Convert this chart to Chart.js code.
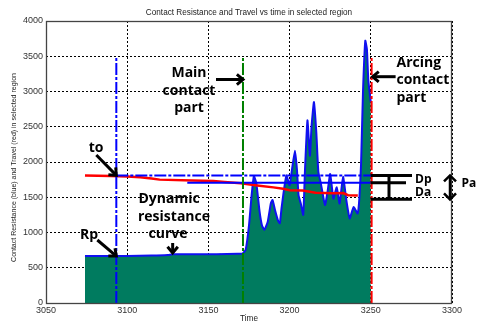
<!DOCTYPE html>
<html><head><meta charset="utf-8">
<script src="https://cdn.jsdelivr.net/npm/chart.js@4.4.1/dist/chart.umd.min.js"></script>
<style>html,body{margin:0;padding:0;background:#fff;}#wrap{width:479px;height:322px;}</style>
</head><body><div id="wrap"><canvas id="c" width="479" height="322"></canvas></div>
<script>
// ---- data ----
const resTime = [3074,3085,3100,3115,3125,3128,3140,3155,3168,3171,3173,3175,3176.5,3178,3179.5,3181.5,3183,3184.5,3186.5,3188.5,3189.5,3191,3193,3194,3195,3196.5,3198,3200,3201.5,3203.3,3204.5,3205.5,3207,3208.4,3209.5,3211,3212.5,3213.5,3215,3216.5,3217.7,3219.3,3221.8,3223.5,3225,3227,3229,3230.8,3232.9,3235,3237,3239.4,3241.9,3243,3244,3245.2,3246.6,3247.6,3248.5,3250];
const resistance = [665,665,668,672,680,690,690,693,698,700,760,1100,1500,1800,1700,1300,1100,1040,1150,1420,1460,1320,1160,1130,1340,1600,1810,1670,1900,2160,1900,1530,1400,1250,1900,2590,2090,2500,2850,2400,1860,1690,1390,1600,1830,1480,1640,1410,1790,1450,1200,1360,1270,1500,1970,3000,3720,3600,3150,2850];
const travelTime = [3074,3090,3100,3108,3115,3120,3140,3153,3160,3170,3180,3190,3196,3200,3208,3216,3227,3233,3236,3242];
const travel = [1810,1800,1795,1785,1765,1750,1738,1729,1715,1700,1668,1640,1621,1600,1595,1565,1555,1560,1530,1526];
const xTicks = [3050,3100,3150,3200,3250,3300];
const yTicks = [0,500,1000,1500,2000,2500,3000,3500,4000];
const markerNames = ['to','main','arc'];
const markerTimes = [3093.3,3171.3,3250.5];
const markerColors = ['#0000ff','#008000','#ff0000'];
const markerTop = 3500;
const dpLevel = 1810, daLevel = 1705, daStart = 3137, paLow = 1470;

const dashDot = [12,2,3,2];
const datasets = [];
markerTimes.forEach((t,i)=>{
  datasets.push({label:markerNames[i],data:[{x:t,y:0},{x:t,y:markerTop}],borderColor:markerColors[i],borderWidth:2,borderDash:dashDot,pointRadius:0,showLine:true,fill:false});
});
datasets.push({label:'Dp',data:[{x:markerTimes[0],y:dpLevel},{x:markerTimes[2],y:dpLevel}],borderColor:'#0000ff',borderWidth:2,borderDash:dashDot,pointRadius:0,showLine:true,fill:false});
datasets.push({label:'Da',data:[{x:daStart,y:daLevel},{x:markerTimes[2],y:daLevel}],borderColor:'#0000ff',borderWidth:2,pointRadius:0,showLine:true,fill:false});
datasets.push({label:'travel',data:travelTime.map((t,i)=>({x:t,y:travel[i]})),borderColor:'#ff0000',borderWidth:2.5,pointRadius:0,showLine:true,fill:false,tension:0});
datasets.push({label:'resistance',data:resTime.map((t,i)=>({x:t,y:resistance[i]})),borderColor:'#1010f0',backgroundColor:'#007b5f',borderWidth:2,pointRadius:0,showLine:true,fill:'origin',tension:0.15});

function arrow(ctx,x1,y1,x2,y2,head){
  head = head||7;
  ctx.beginPath();ctx.moveTo(x1,y1);ctx.lineTo(x2,y2);ctx.stroke();
  const a=Math.atan2(y2-y1,x2-x1);
  ctx.beginPath();
  ctx.moveTo(x2-head*Math.cos(a-0.7),y2-head*Math.sin(a-0.7));
  ctx.lineTo(x2,y2);
  ctx.lineTo(x2-head*Math.cos(a+0.7),y2-head*Math.sin(a+0.7));
  ctx.stroke();
}

const annot = {
  id:'annot',
  afterDatasetsDraw(chart){
    const ctx=chart.ctx,a=chart.chartArea;
    ctx.save();ctx.strokeStyle='#444';ctx.lineWidth=1.3;
    ctx.strokeRect(Math.round(a.left)+0.5,Math.round(a.top)+0.5,Math.round(a.right-a.left)-1,Math.round(a.bottom-a.top));
    ctx.restore();
  },
  afterDraw(chart){
    const ctx=chart.ctx,a=chart.chartArea,X=chart.scales.x,Y=chart.scales.y;
    const px=v=>X.getPixelForValue(v),py=v=>Y.getPixelForValue(v);
    ctx.save();
    ctx.fillStyle='#222';ctx.textAlign='center';ctx.textBaseline='middle';
    ctx.font='8.2px "Liberation Sans", Arial, sans-serif';
    ctx.fillText('Contact Resistance and Travel vs time in selected region',(a.left+a.right)/2,12.5);
    ctx.fillText('Time',(a.left+a.right)/2,319);
    ctx.save();ctx.translate(14,167.5);ctx.rotate(-Math.PI/2);
    ctx.font='7px "Liberation Sans", Arial, sans-serif';
    ctx.fillText('Contact Resistance (blue) and Travel (red) in selected region',0,0);
    ctx.restore();
    ctx.strokeStyle='#000';ctx.fillStyle='#000';ctx.lineWidth=3;ctx.lineCap='butt';ctx.lineJoin='miter';
    const xm=px(markerTimes[1]), xa=px(markerTimes[2]), xt=px(markerTimes[0]);
    arrow(ctx,xm-27,py(3170),xm,py(3170),8);
    arrow(ctx,xa+24,py(3210),xa+1,py(3210),8);
    arrow(ctx,xt-20,155,xt,py(dpLevel),8);
    arrow(ctx,xt-19,240,xt,py(665),8);
    arrow(ctx,px(3128),243,px(3128),py(710),8);
    const yDp=py(dpLevel), yDa=py(daLevel), yLo=py(paLow);
    ctx.beginPath();
    ctx.moveTo(xa-1,yDp);ctx.lineTo(412,yDp);
    ctx.moveTo(xa-1,yDa);ctx.lineTo(406,yDa);
    ctx.moveTo(xa-1,yLo);ctx.lineTo(412,yLo);
    ctx.moveTo(389,yDp);ctx.lineTo(389,yLo);
    ctx.stroke();
    ctx.lineWidth=2.5;
    ctx.beginPath();ctx.moveTo(450,yDp+1);ctx.lineTo(450,yLo-1);ctx.stroke();
    ctx.beginPath();ctx.moveTo(444,yDp+6);ctx.lineTo(450,yDp);ctx.lineTo(456,yDp+6);ctx.stroke();
    ctx.beginPath();ctx.moveTo(444,yLo-6);ctx.lineTo(450,yLo);ctx.lineTo(456,yLo-6);ctx.stroke();
    ctx.textBaseline='alphabetic';
    ctx.font='bold 14px "Open Sans", sans-serif';
    ctx.textAlign='center';
    ctx.fillText('Main',189,77);ctx.fillText('contact',189,94.5);ctx.fillText('part',189,112);
    ctx.fillText('to',96,151.5);
    ctx.fillText('Rp',89,238.5);
    ctx.fillText('Dynamic',169,203);ctx.fillText('resistance',174,220.5);ctx.fillText('curve',168,238);
    ctx.textAlign='left';
    ctx.fillText('Arcing',396.5,66.5);ctx.fillText('contact',396.5,84);ctx.fillText('part',396.5,101.5);
    ctx.font='bold 12px "Open Sans", sans-serif';
    ctx.fillText('Dp',415,182.5);ctx.fillText('Da',415,196);ctx.fillText('Pa',461.5,187);
    ctx.restore();
  }
};

const tickFont = {family:'"Liberation Sans", Arial',size:9};
new Chart(document.getElementById('c'),{
  type:'scatter',
  data:{datasets},
  options:{
    responsive:false,animation:false,
    layout:{padding:{left:0,right:27,top:21,bottom:0}},
    plugins:{legend:{display:false},tooltip:{enabled:false},title:{display:false}},
    scales:{
      x:{type:'linear',min:3050,max:3300,
        afterFit(s){s.height=19;},
        afterBuildTicks(s){s.ticks=xTicks.map(v=>({value:v}));},
        ticks:{autoSkip:false,maxRotation:0,padding:2,color:'#333',font:tickFont,callback:v=>String(v)},
        grid:{color:'#000',lineWidth:1,drawTicks:false},
        border:{display:false,dash:[2,2]}},
      y:{type:'linear',min:0,max:4000,
        afterFit(s){s.width=46;},
        afterBuildTicks(s){s.ticks=yTicks.map(v=>({value:v}));},
        ticks:{autoSkip:false,padding:3,color:'#333',font:tickFont,callback:v=>String(v)},
        grid:{color:'#000',lineWidth:1,drawTicks:false},
        border:{display:false,dash:[2,2]}}
    }
  },
  plugins:[annot]
});
</script></body></html>
